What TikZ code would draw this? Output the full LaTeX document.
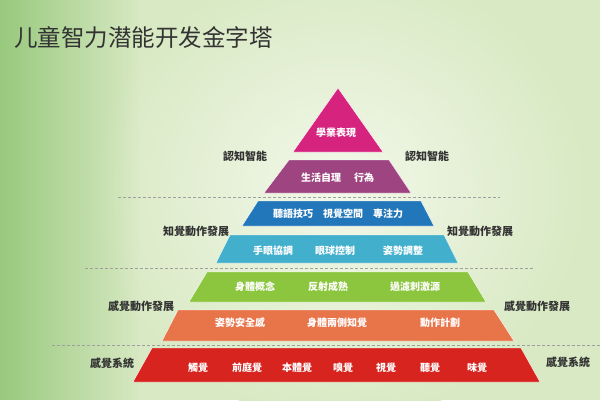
\documentclass[tikz,border=0pt]{standalone}
\usepackage{fontspec}
\newfontfamily\scfont{Noto Sans CJK SC}
\newfontfamily\tcfont{Noto Sans CJK TC}
\usetikzlibrary{fadings}
\definecolor{bgbase}{HTML}{D8E9C3}
\definecolor{bgmid}{HTML}{F3F8EA}
\definecolor{bgleft}{HTML}{98C97D}
\definecolor{cMag}{HTML}{D6247E}
\definecolor{cPur}{HTML}{9E4480}
\definecolor{cBlue}{HTML}{2277BB}
\definecolor{cLBlue}{HTML}{42B0CC}
\definecolor{cGreen}{HTML}{8CC63E}
\definecolor{cOrange}{HTML}{E8744A}
\definecolor{cRed}{HTML}{D8241F}
\definecolor{txt}{HTML}{333333}
\tikzfading[name=fadeR, left color=transparent!0, right color=transparent!100]
\tikzset{
  dashline/.style={draw=gray!75, dash pattern=on 3pt off 2pt, line width=0.8pt},
  intext/.style={text=white, font=\tcfont\bfseries\fontsize{10}{12}\selectfont, inner sep=0pt},
  sidetext/.style={text=txt, font=\tcfont\bfseries\fontsize{11}{13}\selectfont, inner sep=0pt},
  layer/.style={draw=white!60, line width=0.4pt}
}
\begin{document}
\begin{tikzpicture}[x=1pt,y=-1pt]
\useasboundingbox (0,0) rectangle (600,400);
% background
\fill[bgbase] (0,0) rectangle (600,400);
\shade[inner color=bgmid, outer color=bgbase] (340,190) ellipse (250 and 230);
\fill[bgleft, path fading=fadeR] (0,0) rectangle (140,400);
% title
\node[anchor=west, text=txt, font=\scfont\fontsize{23.5}{27}\selectfont, inner sep=0pt] (title) at (14,37) {儿童智力潜能开发金字塔};
% dashed separators
\coordinate (d1a) at (118,197); \coordinate (d1b) at (500,197);
\coordinate (d2a) at (85,268);  \coordinate (d2b) at (533,268);
\coordinate (d3a) at (52,345);  \coordinate (d3b) at (600,345);
\draw[dashline] (d1a) -- (d1b);
\draw[dashline] (d2a) -- (d2b);
\draw[dashline] (d3a) -- (d3b);
% layers
\fill[cMag, layer] (338,88) -- (383,152) -- (293,152) -- cycle;
\fill[cPur, layer] (289,160) -- (389,160) -- (411,193) -- (264,193) -- cycle;
\fill[cBlue, layer] (258,201) -- (421,201) -- (434,226) -- (242,226) -- cycle;
\fill[cLBlue, layer] (230,235) -- (444,235) -- (458,263) -- (216,263) -- cycle;
\fill[cGreen, layer] (207,272) -- (468,272) -- (486,302) -- (189,302) -- cycle;
\fill[cOrange, layer] (178,310) -- (494,310) -- (514,341) -- (162,341) -- cycle;
\fill[cRed, layer] (152,348) -- (521,348) -- (540,382) -- (133,382) -- cycle;
% layer texts
\node[intext] (t1) at (336,133) {學業表現};
\node[intext] (t2a) at (321,178) {生活自理};
\node[intext] (t2b) at (364,178) {行為};
\node[intext] (t3a) at (293,214) {聽語技巧};
\node[intext] (t3b) at (343,214) {視覺空間};
\node[intext] (t3c) at (388,214) {專注力};
\node[intext] (t4a) at (273,251) {手眼協調};
\node[intext] (t4b) at (335,251) {眼球控制};
\node[intext] (t4c) at (403,251) {姿勢調整};
\node[intext] (t5a) at (255,287) {身體概念};
\node[intext] (t5b) at (328,287) {反射成熟};
\node[intext] (t5c) at (415,287) {過濾刺激源};
\node[intext] (t6a) at (240,323) {姿勢安全感};
\node[intext] (t6b) at (337,323) {身體兩側知覺};
\node[intext] (t6c) at (440,323) {動作計劃};
\node[intext] (t7a) at (198,368) {觸覺};
\node[intext] (t7b) at (247,368) {前庭覺};
\node[intext] (t7c) at (297,368) {本體覺};
\node[intext] (t7d) at (343,368) {嗅覺};
\node[intext] (t7e) at (386,368) {視覺};
\node[intext] (t7f) at (430,368) {聽覺};
\node[intext] (t7g) at (477,368) {味覺};
% side labels
\node[sidetext] (l1) at (245,156) {認知智能};
\node[sidetext] (r1) at (427,156) {認知智能};
\node[sidetext] (l2) at (196,231) {知覺動作發展};
\node[sidetext] (r2) at (480,231) {知覺動作發展};
\node[sidetext] (l3) at (141,306) {感覺動作發展};
\node[sidetext] (r3) at (537,306) {感覺動作發展};
\node[sidetext] (l4) at (112,363) {感覺系統};
\node[sidetext] (r4) at (568,362) {感覺系統};
\end{tikzpicture}
\end{document}
